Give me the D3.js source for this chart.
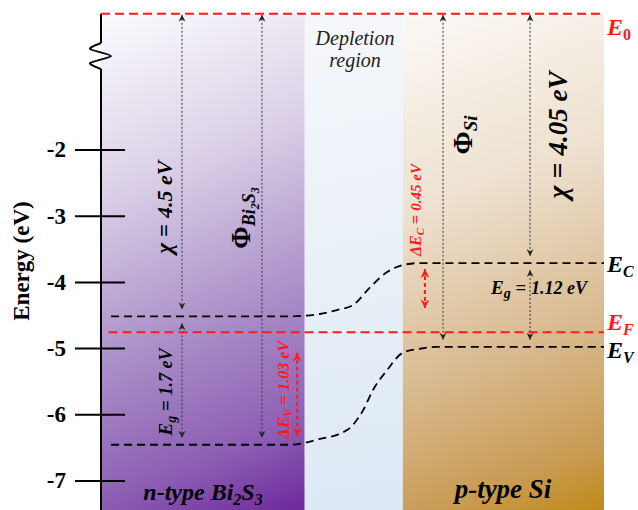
<!DOCTYPE html>
<html><head><meta charset="utf-8">
<script src="https://cdn.jsdelivr.net/npm/d3@7"></script>
<style>html,body{margin:0;padding:0;background:#fff}</style>
</head><body>
<svg id="chart" width="638" height="510"></svg>
<script>
// ---------- data ----------
const yTicks = [-2, -3, -4, -5, -6, -7];
const vacuumLevel = 0.05;
const fermiLevel = -4.76;
const regionNames = ["n-type Bi2S3", "Depletion region", "p-type Si"];
const regionStart = [0, 4.05, 6.0];
const regionEnd = [4.05, 6.0, 10];
// conduction band edge profile (position, energy eV)
const ecPos = [0.2, 3.76, 4.06, 4.35, 4.69, 5.01, 5.35, 5.69, 6.0, 6.34, 10];
const ecEnergy = [-4.52, -4.52, -4.51, -4.485, -4.425, -4.35, -4.08, -3.85, -3.745, -3.715, -3.715];
// valence band edge profile
const evPos = [0.2, 3.76, 4.06, 4.35, 4.69, 5.01, 5.21, 5.41, 5.69, 6.0, 6.34, 6.68, 10];
const evEnergy = [-6.46, -6.46, -6.43, -6.37, -6.31, -6.16, -5.94, -5.63, -5.33, -5.07, -5.01, -4.98, -4.98];
// dotted energy arrows
const arrowNames = ["chiBi", "egBi", "phiBi", "phiSi", "chiSi", "egSi"];
const arrowPos = [1.61, 1.61, 3.2, 6.8, 8.53, 8.53];
const arrowTop = [0.05, -4.52, 0.05, 0.05, 0.05, -3.715];
const arrowBottom = [-4.52, -6.46, -6.46, -4.98, -3.715, -4.98];
// band offsets (red arrows)
const offsetNames = ["dEc", "dEv"];
const offsetPos = [6.44, 3.9];
const offsetTop = [-3.715, -4.98];
const offsetBottom = [-4.52, -6.46];

// ---------- setup ----------
const W = 638, H = 510;
const SERIF = "'Liberation Serif','Times New Roman',serif";
const svg = d3.select("#chart");
const x = d3.scaleLinear().domain([0, 10]).range([101, 604]);
const y = d3.scaleLinear().domain([-2, -7]).range([149.5, 480.5]);
const defs = svg.append("defs");

function grad(id, x1, y1, x2, y2, stops) {
  const g = defs.append("linearGradient").attr("id", id)
    .attr("gradientUnits", "userSpaceOnUse")
    .attr("x1", x1).attr("y1", y1).attr("x2", x2).attr("y2", y2);
  stops.forEach(s => g.append("stop").attr("offset", s[0]).attr("stop-color", s[1]));
}
const top0 = y(vacuumLevel);
grad("gBi", x(regionStart[0]), top0, x(regionEnd[0]), H,
  [[0, "#fcfbfd"], [0.3, "#dcd3e8"], [0.62, "#a98dc7"], [0.85, "#8c5db3"], [1, "#6c289b"]]);
grad("gDep", x(regionStart[1]), top0, x(regionEnd[1]), H,
  [[0, "#f6f7fa"], [1, "#dce9f5"]]);
grad("gSi", x(regionStart[2]), top0, x(regionEnd[2]), H,
  [[0, "#fbf9f6"], [0.35, "#eee1d0"], [0.65, "#d9bb92"], [0.88, "#c99c55"], [1, "#c08a18"]]);
const fills = ["url(#gBi)", "url(#gDep)", "url(#gSi)"];

svg.append("g").selectAll("rect").data(regionNames).join("rect")
  .attr("x", (d, i) => x(regionStart[i]))
  .attr("width", (d, i) => x(regionEnd[i]) - x(regionStart[i]))
  .attr("y", top0).attr("height", H - top0)
  .attr("fill", (d, i) => fills[i]);

// markers
function marker(id, color, size) {
  defs.append("marker").attr("id", id).attr("viewBox", "0 0 10 10")
    .attr("refX", 10).attr("refY", 5).attr("markerUnits", "userSpaceOnUse")
    .attr("markerWidth", size).attr("markerHeight", size)
    .attr("orient", "auto-start-reverse")
    .append("path").attr("d", "M0,0 L10,5 L0,10 L3.5,5 Z").attr("fill", color);
}
marker("mBlack", "#222", 7);
marker("mRed", "#ff1a1a", 9);

// ---------- axis ----------
const axisG = svg.append("g").attr("transform", `translate(${x(0)},0)`)
  .call(d3.axisLeft(y).tickValues(yTicks).tickFormat(d => String(d)).tickSize(0).tickPadding(35));
axisG.select(".domain").remove();
axisG.selectAll(".tick line").attr("x1", -26).attr("x2", 24).attr("stroke", "#000").attr("stroke-width", 2);
axisG.selectAll(".tick text").attr("font-size", 23).attr("font-weight", "bold")
  .attr("font-family", SERIF).attr("fill", "#000");

const ax = x(0);
svg.append("path")
  .attr("d", d3.line().curve(d3.curveCardinal.tension(0.3))([
    [ax, 43], [ax - 11, 49], [ax + 10, 56], [ax - 11, 63], [ax, 69]]))
  .attr("fill", "none").attr("stroke", "#000").attr("stroke-width", 2);
svg.append("line").attr("x1", ax).attr("x2", ax).attr("y1", top0).attr("y2", 43)
  .attr("stroke", "#000").attr("stroke-width", 2);
svg.append("line").attr("x1", ax).attr("x2", ax).attr("y1", 69).attr("y2", H)
  .attr("stroke", "#000").attr("stroke-width", 2);

svg.append("text").attr("transform", "translate(29,261) rotate(-90)")
  .attr("text-anchor", "middle").attr("font-family", SERIF).attr("font-weight", "bold")
  .attr("font-size", 23).text("Energy (eV)");

// ---------- dotted arrows ----------
const gap = 7;
svg.append("g").selectAll("line").data(arrowNames).join("line")
  .attr("x1", (d, i) => x(arrowPos[i])).attr("x2", (d, i) => x(arrowPos[i]))
  .attr("y1", (d, i) => y(arrowTop[i]) + (arrowTop[i] === vacuumLevel ? 1 : gap))
  .attr("y2", (d, i) => y(arrowBottom[i]) - gap)
  .attr("stroke", "#333").attr("stroke-width", 1).attr("stroke-dasharray", "2,2")
  .attr("marker-start", "url(#mBlack)").attr("marker-end", "url(#mBlack)");

svg.append("g").selectAll("line").data(offsetNames).join("line")
  .attr("x1", (d, i) => x(offsetPos[i])).attr("x2", (d, i) => x(offsetPos[i]))
  .attr("y1", (d, i) => y(offsetTop[i]) + 6)
  .attr("y2", (d, i) => y(offsetBottom[i]) - 8)
  .attr("stroke", "#ff1a1a").attr("stroke-width", 2).attr("stroke-dasharray", "4,3")
  .attr("marker-start", "url(#mRed)").attr("marker-end", "url(#mRed)");

// ---------- levels ----------
const lineGen = d3.line().x(d => x(d[0])).y(d => y(d[1])).curve(d3.curveMonotoneX);
svg.append("path").attr("d", lineGen(ecPos.map((p, i) => [p, ecEnergy[i]])))
  .attr("fill", "none").attr("stroke", "#000").attr("stroke-width", 1.8).attr("stroke-dasharray", "8,5");
svg.append("path").attr("d", lineGen(evPos.map((p, i) => [p, evEnergy[i]])))
  .attr("fill", "none").attr("stroke", "#000").attr("stroke-width", 1.8).attr("stroke-dasharray", "8,5");
svg.append("line").attr("x1", x(0)).attr("x2", x(10)).attr("y1", y(vacuumLevel)).attr("y2", y(vacuumLevel))
  .attr("stroke", "#ff1a1a").attr("stroke-width", 2).attr("stroke-dasharray", "9,5");
svg.append("line").attr("x1", x(0.15)).attr("x2", x(10)).attr("y1", y(fermiLevel)).attr("y2", y(fermiLevel))
  .attr("stroke", "#ff1a1a").attr("stroke-width", 2).attr("stroke-dasharray", "9,5");

// ---------- rich text helper ----------
function rich(px, py, rot, anchor, segs, fill, weight) {
  const t = svg.append("text")
    .attr("transform", `translate(${px},${py})` + (rot ? ` rotate(${rot})` : ""))
    .attr("text-anchor", anchor).attr("font-family", SERIF)
    .attr("font-weight", weight || "bold").attr("fill", fill || "#000");
  let cur = 0;
  segs.forEach(s => {
    const ts = t.append("tspan").text(s.t).attr("font-size", s.s)
      .attr("font-style", s.n ? "normal" : "italic");
    const b = s.b || 0;
    if (b !== cur) ts.attr("dy", b - cur);
    cur = b;
  });
  return t;
}

// right-side level labels
rich(607, 35, 0, "start", [{t: "E", s: 24}, {t: "0", s: 16, b: 5, n: true}], "#ff1a1a");
rich(607, 272, 0, "start", [{t: "E", s: 24}, {t: "C", s: 16, b: 5}], "#000");
rich(607, 330, 0, "start", [{t: "E", s: 24}, {t: "F", s: 16, b: 5}], "#ff1a1a");
rich(607, 358, 0, "start", [{t: "E", s: 24}, {t: "V", s: 16, b: 5}], "#000");

// rotated annotation labels
rich(172, 207, -90, "middle", [{t: "χ", s: 23}, {t: " = ", s: 23, n: true}, {t: "4.5 eV", s: 22}]);
rich(250, 218, -90, "middle", [{t: "Φ", s: 27, n: true}, {t: "Bi", s: 18, b: 5}, {t: "2", s: 12, b: 9}, {t: "S", s: 18, b: 5}, {t: "3", s: 12, b: 9}]);
rich(172, 392, -90, "middle", [{t: "E", s: 19}, {t: "g", s: 14, b: 4}, {t: " = ", s: 19, n: true}, {t: "1.7 eV", s: 18}]);
rich(289, 390, -90, "middle", [{t: "ΔE", s: 17}, {t: "V", s: 12, b: 3}, {t: " = ", s: 17, n: true}, {t: "1.03 eV", s: 16}], "#ff1a1a");
rich(421, 210, -90, "middle", [{t: "ΔE", s: 16}, {t: "C", s: 11, b: 3}, {t: " = ", s: 16, n: true}, {t: "0.45 eV", s: 15}], "#ff1a1a");
rich(472, 135, -90, "middle", [{t: "Φ", s: 28, n: true}, {t: "Si", s: 19, b: 5}]);
rich(567, 135, -90, "middle", [{t: "χ", s: 28}, {t: " = ", s: 28, n: true}, {t: "4.05 eV", s: 27}]);
rich(539, 294, 0, "middle", [{t: "E", s: 19}, {t: "g", s: 14, b: 4}, {t: " = ", s: 19, n: true}, {t: "1.12 eV", s: 18}]);

// region labels
rich(355, 45, 0, "middle", [{t: "Depletion", s: 20}], "#222", "normal");
rich(355, 67, 0, "middle", [{t: "region", s: 20}], "#222", "normal");
rich(203, 500, 0, "middle", [{t: "n-type Bi", s: 24}, {t: "2", s: 16, b: 5}, {t: "S", s: 24}, {t: "3", s: 16, b: 5}]);
rich(503, 498, 0, "middle", [{t: "p-type Si", s: 27}]);
</script>
</body></html>
